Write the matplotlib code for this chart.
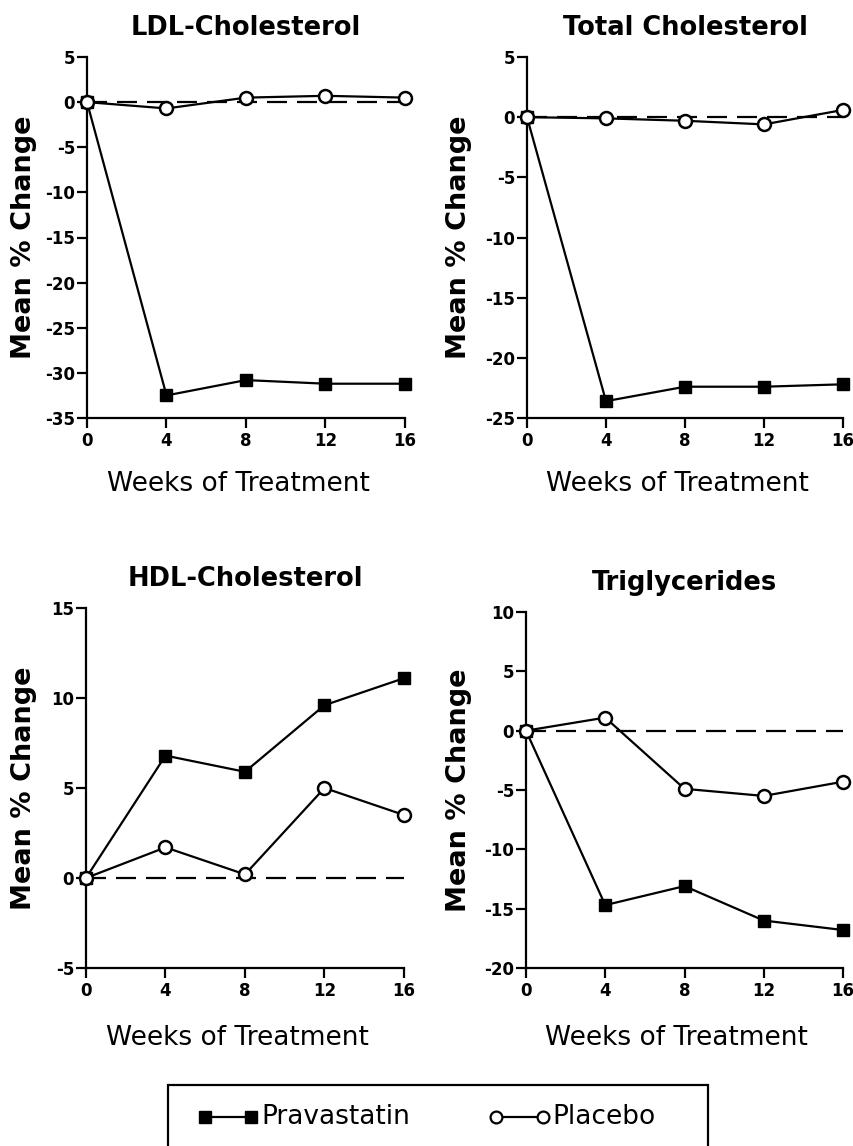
import matplotlib
matplotlib.use("Agg")
import matplotlib.pyplot as plt
from matplotlib.lines import Line2D
from matplotlib.patches import Rectangle

weeks = [0, 4, 8, 12, 16]
titles = ["LDL-Cholesterol", "Total Cholesterol", "HDL-Cholesterol", "Triglycerides"]
prava_ldl = [0, -32.5, -30.8, -31.2, -31.2]
placebo_ldl = [0, -0.7, 0.5, 0.7, 0.5]
prava_tc = [0, -23.6, -22.4, -22.4, -22.2]
placebo_tc = [0, -0.1, -0.3, -0.6, 0.6]
prava_hdl = [0, 6.8, 5.9, 9.6, 11.1]
placebo_hdl = [0, 1.7, 0.2, 5.0, 3.5]
prava_tg = [0, -14.7, -13.1, -16.0, -16.8]
placebo_tg = [0, 1.1, -4.9, -5.5, -4.3]
yticks_ldl = [5, 0, -5, -10, -15, -20, -25, -30, -35]
yticks_tc = [5, 0, -5, -10, -15, -20, -25]
yticks_hdl = [15, 10, 5, 0, -5]
yticks_tg = [10, 5, 0, -5, -10, -15, -20]
series_names = ["Pravastatin", "Placebo"]

plt.rcParams['font.family'] = ['DejaVu Sans']
fig = plt.figure(figsize=(8.54, 11.46), dpi=100)

W, H = 854, 1146
def ax_at(l, r, t, b):
    return fig.add_axes([l / W, 1 - b / H, (r - l) / W, (b - t) / H])

# (axes box, ylabel descender-edge x px, xlabel top y px)
panels = [
    ((87, 405, 57, 418), titles[0], prava_ldl, placebo_ldl, yticks_ldl, 37, 471),
    ((527, 843, 57, 418), titles[1], prava_tc, placebo_tc, yticks_tc, 472, 471),
    ((86, 404, 608, 968), titles[2], prava_hdl, placebo_hdl, yticks_hdl, 37, 1025),
    ((526, 843, 612, 968), titles[3], prava_tg, placebo_tg, yticks_tg, 472, 1025),
]

LW = 1.6
for box, title, pr, pl, yt, ylx, xly in panels:
    l, r, t, b = box
    ax = ax_at(l, r, t, b)
    ax.plot([weeks[0], weeks[-1]], [0, 0], color='black', lw=LW,
            dashes=(9, 4.5), zorder=1)
    ax.plot(weeks, pr, color='black', lw=LW, marker='s', markersize=9.3,
            markerfacecolor='black', markeredgecolor='black', clip_on=False, zorder=3)
    ax.plot(weeks, pl, color='black', lw=LW, marker='o', markersize=9.3,
            markerfacecolor='white', markeredgecolor='black', markeredgewidth=1.8,
            clip_on=False, zorder=4)
    ax.set_xlim(0, 16)
    ax.set_ylim(min(yt), max(yt))
    ax.set_xticks(weeks)
    ax.set_yticks(yt)
    ax.set_yticklabels([str(v) for v in yt], fontsize=12, fontweight='bold')
    ax.set_xticklabels([str(v) for v in weeks], fontsize=12, fontweight='bold')
    for s in ['top', 'right']:
        ax.spines[s].set_visible(False)
    for s in ['left', 'bottom']:
        ax.spines[s].set_linewidth(LW)
    ax.tick_params(axis='y', direction='out', length=7, width=LW, pad=1.5)
    ax.tick_params(axis='x', direction='out', length=7, width=LW, pad=3)
    ax.set_title(title, fontsize=18.5, fontweight='bold', pad=16)
    ax.set_ylabel("Mean % Change", fontsize=19.5, fontweight='bold')
    ax.yaxis.set_label_coords((ylx - l) / (r - l), 0.5)
    ax.set_xlabel("Weeks of Treatment", fontsize=19)
    ax.xaxis.set_label_coords(0.475, -(xly - b) / (b - t))

# legend box (bottom edge runs off the page as in the original)
fig.add_artist(Rectangle((168 / W, -10 / H), (708 - 168) / W, (1146 + 10 - 1085) / H,
                         transform=fig.transFigure, fill=False, edgecolor='black',
                         lw=LW, clip_on=False))
ly = 1 - 1117 / H
fig.add_artist(Line2D([205 / W, 251 / W], [ly, ly], transform=fig.transFigure,
                      color='black', lw=LW, marker='s', markersize=9,
                      markerfacecolor='black'))
fig.add_artist(Line2D([496 / W, 543 / W], [ly, ly], transform=fig.transFigure,
                      color='black', lw=LW, marker='o', markersize=8.5,
                      markerfacecolor='white', markeredgewidth=1.6))
fig.text(261 / W, ly, series_names[0], fontsize=19, ha='left', va='center')
fig.text(552 / W, ly, series_names[1], fontsize=19, ha='left', va='center')

fig.savefig("out.png", dpi=100)
